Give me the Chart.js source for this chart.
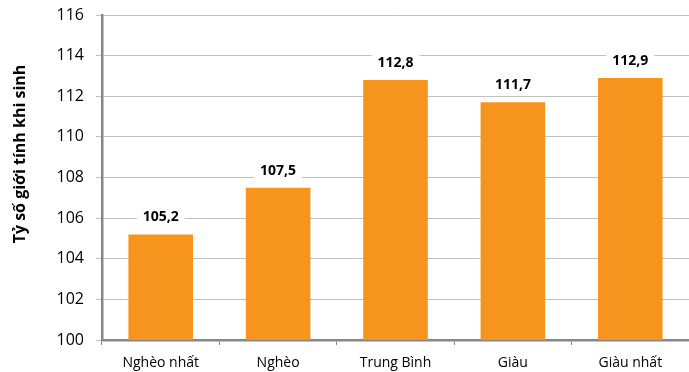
<!DOCTYPE html>
<html lang="vi">
<head>
<meta charset="UTF-8">
<title>Tỷ số giới tính khi sinh</title>
<script src="https://cdn.jsdelivr.net/npm/chart.js"></script>
<style>
  html, body { margin: 0; padding: 0; background: #fff; }
  #wrap { width: 689px; height: 372px; }
</style>
</head>
<body>
<div id="wrap"><canvas id="chart"></canvas></div>
<script>
const categories = ['Nghèo nhất', 'Nghèo', 'Trung Bình', 'Giàu', 'Giàu nhất'];
const ratios = [105.2, 107.5, 112.8, 111.7, 112.9];
const yTitle = 'Tỷ số giới tính khi sinh';

const FONT = '"Open Sans", "Noto Sans", sans-serif';

// labels above the bars, white box behind so the gridline is hidden
const valueLabels = {
  id: 'valueLabels',
  afterDatasetsDraw(chart) {
    const ctx = chart.ctx;
    const meta = chart.getDatasetMeta(0);
    ctx.save();
    ctx.font = 'bold 14px ' + FONT;
    ctx.textAlign = 'center';
    ctx.textBaseline = 'middle';
    meta.data.forEach((bar, i) => {
      const txt = ratios[i].toFixed(1).replace('.', ',');
      const w = ctx.measureText(txt).width + 12;
      const y = bar.y - 17;
      ctx.fillStyle = '#fff';
      ctx.fillRect(bar.x - w / 2, y - 9, w, 18);
      ctx.fillStyle = '#000';
      ctx.fillText(txt, bar.x, y);
    });
    ctx.restore();
  }
};

// rotated axis title, placed a bit above the middle like the original
const axisTitle = {
  id: 'axisTitle',
  afterDraw(chart) {
    const ctx = chart.ctx;
    ctx.save();
    ctx.translate(20, 154);
    ctx.rotate(-Math.PI / 2);
    ctx.font = 'bold 16px ' + FONT;
    ctx.fillStyle = '#000';
    ctx.textAlign = 'center';
    ctx.textBaseline = 'middle';
    ctx.fillText(yTitle, 0, 0);
    ctx.restore();
  }
};

new Chart(document.getElementById('chart'), {
  type: 'bar',
  data: {
    labels: categories,
    datasets: [{
      data: ratios,
      backgroundColor: '#F7941E',
      categoryPercentage: 1,
      barPercentage: 0.55
    }]
  },
  options: {
    responsive: true,
    maintainAspectRatio: false,
    animation: false,
    layout: { padding: { top: 15, right: 0, bottom: 0, left: 0 } },
    plugins: {
      legend: { display: false },
      tooltip: { enabled: false }
    },
    scales: {
      x: {
        offset: true,
        grid: {
          offset: true,
          drawOnChartArea: false,
          drawTicks: true,
          tickLength: 5,
          color: '#868686',
          lineWidth: 1
        },
        border: { color: '#868686', width: 2.5 },
        ticks: {
          color: '#000',
          font: { family: FONT, size: 14 },
          padding: 10
        },
        afterFit(scale) { scale.height = 32; }
      },
      y: {
        min: 100,
        max: 116,
        ticks: {
          stepSize: 2,
          color: '#000',
          font: { family: FONT, size: 16 },
          padding: 12
        },
        grid: {
          color: '#C0C0C0',
          lineWidth: 1,
          tickLength: 6
        },
        border: { color: '#868686', width: 2.5 },
        afterFit(scale) {
          scale.width = 102;
          scale.paddingTop = 0;
          scale.paddingBottom = 0;
        }
      }
    }
  },
  plugins: [valueLabels, axisTitle]
});
</script>
</body>
</html>
